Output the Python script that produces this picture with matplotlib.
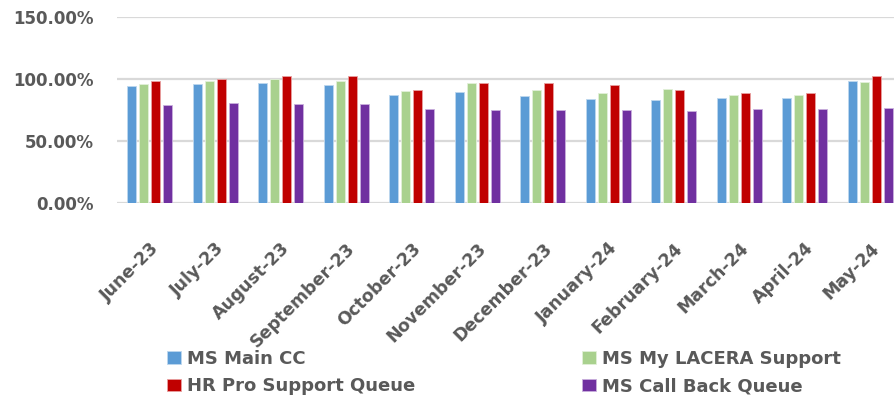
import matplotlib
matplotlib.use("Agg")
import matplotlib.pyplot as plt
import matplotlib.transforms as mtransforms
import numpy as np
from matplotlib.ticker import FuncFormatter

months = ["June-23", "July-23", "August-23", "September-23", "October-23", "November-23",
          "December-23", "January-24", "February-24", "March-24", "April-24", "May-24"]
series_names = ["MS Main CC", "MS My LACERA Support", "HR Pro Support Queue", "MS Call Back Queue"]
ms_main_cc = [94.4, 95.7, 96.8, 94.9, 87.1, 89.8, 86.3, 83.6, 82.8, 85.0, 84.5, 98.1]
ms_my_lacera = [96.2, 98.7, 100.3, 98.4, 90.3, 97.1, 91.2, 89.0, 92.2, 87.1, 87.1, 97.6]
hr_pro_support = [98.1, 100.0, 102.4, 102.4, 91.4, 96.8, 96.8, 95.2, 91.4, 88.5, 88.5, 102.7]
ms_call_back = [79.1, 80.7, 79.9, 79.9, 75.9, 75.1, 75.1, 74.8, 74.3, 75.6, 75.6, 76.7]
y_ticks = [0, 50, 100, 150]

colors = ["#5B9BD5", "#A9D18E", "#C00000", "#7030A0"]
edge_colors = ["#BDD7EE", "#E2F0D9", "#E8A0A0", "#C9B0DD"]
text_color = "#595959"
font = "DejaVu Sans"

fig = plt.figure(figsize=(8.94, 3.98), dpi=100)
W, H = 894, 398
left_px, right_px = 117, 903
bottom_px, top_px = 203.3, 16.9
ax = fig.add_axes([left_px / W, 1 - bottom_px / H, (right_px - left_px) / W, (bottom_px - top_px) / H])

x = np.arange(len(months))
stride = 0.183
width = 0.142
all_series = [ms_main_cc, ms_my_lacera, hr_pro_support, ms_call_back]
handles = []
for i, (vals, c, ec, name) in enumerate(zip(all_series, colors, edge_colors, series_names)):
    b = ax.bar(x + (i - 1.5) * stride, vals, width, color=c, edgecolor=ec, linewidth=0.6,
               label=name, zorder=3)
    handles.append(b)

ax.set_xlim(-0.5, len(months) - 0.5)
ax.set_ylim(0, 150)
ax.set_yticks(y_ticks)
ax.yaxis.set_major_formatter(FuncFormatter(lambda v, p: f"{v:.2f}%"))
ax.grid(axis="y", color="#D9D9D9", linewidth=1.6, zorder=0)
for s in ax.spines.values():
    s.set_visible(False)
ax.tick_params(axis="both", length=0)
ax.tick_params(axis="y", pad=16.5)
ax.set_xticks(x)
ax.set_xticklabels(months, rotation=45, ha="right", va="top", rotation_mode="anchor")
for lab in ax.get_yticklabels():
    lab.set_fontfamily(font); lab.set_fontweight("bold"); lab.set_fontsize(12); lab.set_color(text_color)
shift = mtransforms.ScaledTranslation(-3 / 100, 0, fig.dpi_scale_trans)
for lab in ax.get_xticklabels():
    lab.set_fontfamily(font); lab.set_fontweight("bold"); lab.set_fontsize(12.5); lab.set_color(text_color)
    lab.set_transform(lab.get_transform() + shift)
ax.tick_params(axis="x", pad=26)

leg_kw = dict(loc="upper left", frameon=False, handlelength=0.78, handleheight=0.7,
              handletextpad=0.33, labelspacing=0.52, borderpad=0, borderaxespad=0,
              prop={"family": font, "weight": "bold", "size": 13})
col1 = [0, 2]
col2 = [1, 3]
leg1 = fig.legend([handles[i] for i in col1], [series_names[i] for i in col1],
                  bbox_to_anchor=(167 / W, 1 - 350 / H), **leg_kw)
leg2 = fig.legend([handles[i] for i in col2], [series_names[i] for i in col2],
                  bbox_to_anchor=(582 / W, 1 - 350 / H), **leg_kw)
for leg in (leg1, leg2):
    for t in leg.get_texts():
        t.set_color(text_color)

fig.savefig("out.png", dpi=100)
